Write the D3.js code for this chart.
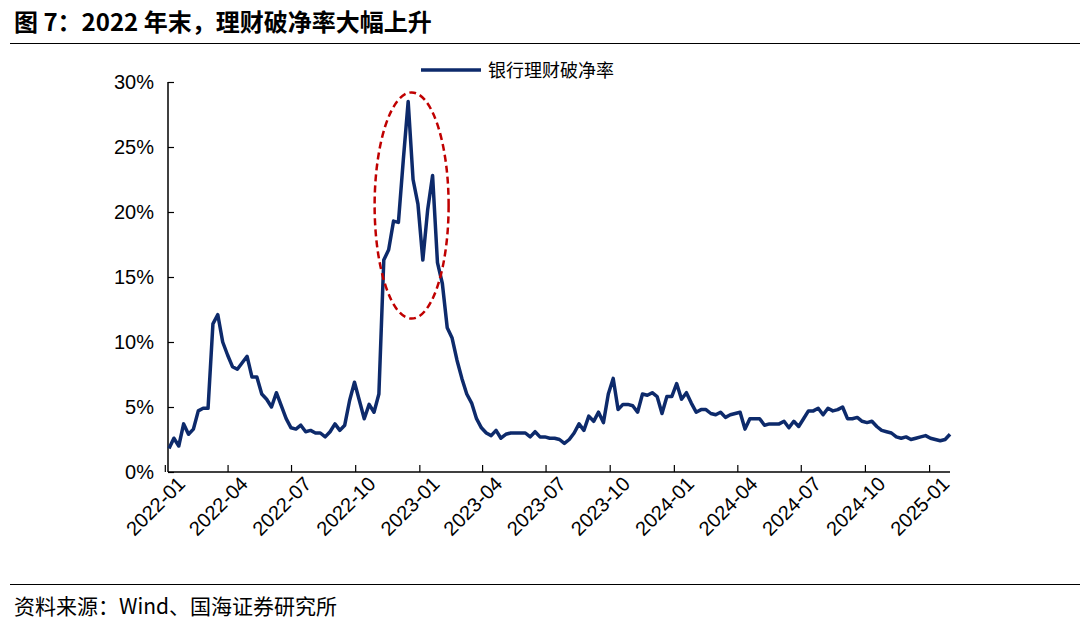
<!DOCTYPE html>
<html><head><meta charset="utf-8">
<script src="https://cdn.jsdelivr.net/npm/d3@7"></script>
<style>
body{margin:0;background:#fff;font-family:"Liberation Sans",Arial,sans-serif}
</style></head>
<body><svg id="chart" width="1080" height="619"></svg>
<script>
// weekly series, first week 2022-01-07 (%)
const startDate = "2022-01-07";
const values = [
  1.8,2.6,2.0,3.7,2.9,3.3,4.7,4.9,4.9,11.4,12.1,10.0,9.0,8.1,7.9,8.4,8.9,7.3,7.3,6.0,
  5.6,5.0,6.1,5.1,4.1,3.4,3.3,3.6,3.1,3.2,3.0,3.0,2.7,3.1,3.7,3.2,3.6,5.5,6.9,5.5,
  4.1,5.2,4.6,6.0,16.3,17.1,19.3,19.2,24.0,28.5,22.5,20.6,16.3,20.2,22.8,16.1,14.5,11.1,10.3,8.6,
  7.2,6.0,5.3,4.1,3.4,3.0,2.8,3.2,2.6,2.9,3.0,3.0,3.0,3.0,2.7,3.1,2.7,2.7,2.6,2.6,
  2.5,2.2,2.5,3.0,3.7,3.2,4.3,3.9,4.6,3.8,6.0,7.2,4.8,5.2,5.2,5.1,4.6,6.0,5.9,6.1,
  5.8,4.5,5.8,5.8,6.8,5.6,6.1,5.3,4.6,4.8,4.8,4.5,4.4,4.6,4.2,4.4,4.5,4.6,3.3,4.1,
  4.1,4.1,3.6,3.7,3.7,3.7,3.9,3.4,3.9,3.5,4.1,4.7,4.7,4.9,4.4,4.9,4.7,4.8,5.0,4.1,
  4.1,4.2,3.9,3.8,3.9,3.5,3.2,3.1,3.0,2.7,2.6,2.7,2.5,2.6,2.7,2.8,2.6,2.5,2.4,2.5,2.9
];
const tickDates = ["2022-01","2022-04","2022-07","2022-10","2023-01","2023-04","2023-07",
  "2023-10","2024-01","2024-04","2024-07","2024-10","2025-01"];
const yTicks = [0,5,10,15,20,25,30];
const seriesName = "银行理财破净率";

const svg = d3.select("#chart");
const parse = d3.timeParse("%Y-%m-%d");
const start = parse(startDate);
const data = values.map((v, i) => ({date: d3.timeDay.offset(start, i * 7), v}));

const x = d3.scaleTime().domain([start, data[data.length - 1].date]).range([169, 950]);
const y = d3.scaleLinear().domain([0, 30]).range([472, 82]);

// title and rules
svg.append("text").attr("x", 14).attr("y", 31).attr("font-size", 24).attr("font-weight", "bold")
  .attr("font-family", "'Noto Sans CJK SC',sans-serif").text("图 7：2022 年末，理财破净率大幅上升");
svg.append("line").attr("x1", 10).attr("x2", 1080).attr("y1", 43.5).attr("y2", 43.5).attr("stroke", "#000").attr("stroke-width", 1.2);
svg.append("line").attr("x1", 10).attr("x2", 1080).attr("y1", 584.5).attr("y2", 584.5).attr("stroke", "#000").attr("stroke-width", 1.2);
svg.append("text").attr("x", 14).attr("y", 614).attr("font-size", 21)
  .attr("font-family", "'Noto Sans CJK SC',sans-serif").text("资料来源：Wind、国海证券研究所");

// axes
const yAxis = svg.append("g").attr("transform", "translate(168,0)")
  .call(d3.axisLeft(y).tickValues(yTicks).tickFormat(d => d + "%").tickSize(-6).tickPadding(14));
yAxis.selectAll("text").attr("font-size", 20).attr("fill", "#000").attr("font-family", "'Liberation Sans',Arial");
const xAxis = svg.append("g").attr("transform", "translate(0,472)")
  .call(d3.axisBottom(x).tickValues(tickDates.map(d3.timeParse("%Y-%m"))).tickFormat(d3.timeFormat("%Y-%m")).tickSize(-7).tickSizeOuter(0));
xAxis.selectAll("text").attr("font-size", 20).attr("fill", "#000").attr("font-family", "'Liberation Sans',Arial")
  .attr("text-anchor", "end").attr("transform", "translate(14,6) rotate(-45)").attr("dy", "0.35em");
svg.selectAll(".domain").attr("stroke", "#000").attr("stroke-width", 1.5);
xAxis.select(".domain").attr("d", "M168,0H950");
yAxis.select(".domain").attr("d", "M0,82V472");
svg.selectAll(".tick line").attr("stroke", "#000").attr("stroke-width", 1.2);

// series
svg.append("path").datum(data)
  .attr("fill", "none").attr("stroke", "#0d2a6b").attr("stroke-width", 3.5).attr("stroke-linejoin", "round")
  .attr("d", d3.line().x(d => x(d.date)).y(d => y(d.v)));

// highlight ellipse around the late-2022 spike
const peak = data.slice(44, 56);
const ex0 = x(peak[0].date), ex1 = x(peak[peak.length - 1].date);
svg.append("ellipse").attr("cx", (ex0 + ex1) / 2 + 1).attr("cy", y(20.5))
  .attr("rx", 37).attr("ry", y(20.5) - y(29.2))
  .attr("fill", "none").attr("stroke", "#c00000").attr("stroke-width", 2.5).attr("stroke-dasharray", "7,4");

// legend
svg.append("line").attr("x1", 421).attr("x2", 481).attr("y1", 70).attr("y2", 70).attr("stroke", "#0d2a6b").attr("stroke-width", 3.5);
svg.append("text").attr("x", 488).attr("y", 77).attr("font-size", 18)
  .attr("font-family", "'Noto Sans CJK SC',sans-serif").text(seriesName);
</script></body></html>
